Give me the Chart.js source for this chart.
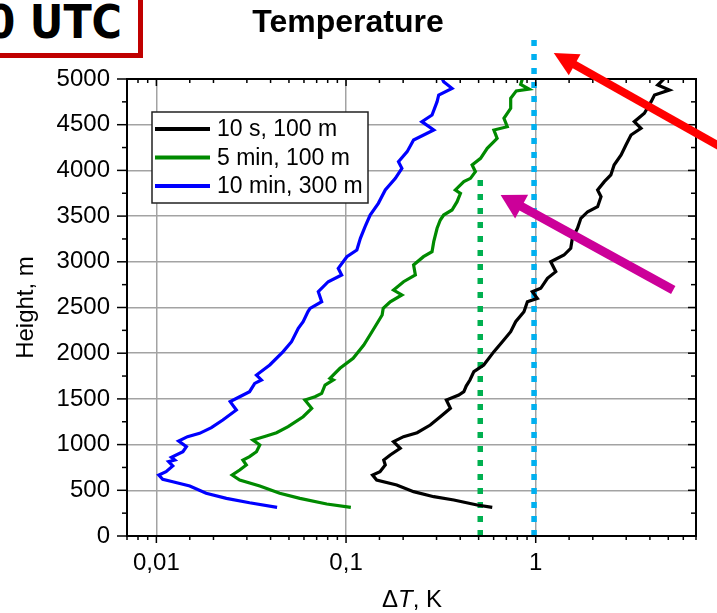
<!DOCTYPE html>
<html>
<head>
<meta charset="utf-8">
<script src="https://cdn.jsdelivr.net/npm/chart.js@4.4.1/dist/chart.umd.min.js"></script>
<style>
  body { margin: 0; background: #fff; }
  #wrap { position: relative; width: 717px; height: 613px; overflow: hidden; }
  #utc {
    position: absolute; right: 574px; top: -10px; box-sizing: border-box; height: 68px;
    border: 5px solid #c00000; background: #fff; white-space: nowrap;
    font: bold 46px "Liberation Sans Narrow", "DejaVu Sans Condensed", sans-serif;
    line-height: 48px; padding: 3px 16px 0 40px; color: #000;
  }
  #xtitle {
    position: absolute; left: 312px; width: 200px; top: 585px; text-align: center;
    font: 24px "Liberation Sans", Arial, sans-serif; line-height: 28px; color: #000;
  }
</style>
</head>
<body>
<div id="wrap">
  <canvas id="chart" width="717" height="613"></canvas>
  <div id="utc">0 UTC</div>
  <div id="xtitle">Δ<i>T</i>, K</div>
</div>
<script>
// profiles: height (m) and ΔT (K)
const blackHeight = [314, 339, 394, 430, 485, 558, 613, 667, 704, 777, 831, 886, 959, 1032, 1087, 1130, 1214, 1305, 1397, 1488, 1543, 1579, 1640, 1707, 1798, 1871, 2017, 2126, 2235, 2345, 2454, 2563, 2600, 2673, 2710, 2819, 2892, 3001, 3074, 3148, 3257, 3367, 3476, 3548, 3603, 3712, 3786, 3877, 3950, 4059, 4168, 4278, 4387, 4461, 4533, 4625, 4752, 4825, 4880, 4934, 4989, 5000];
const blackDT = [0.590, 0.491, 0.370, 0.290, 0.227, 0.185, 0.145, 0.138, 0.151, 0.161, 0.158, 0.171, 0.193, 0.178, 0.201, 0.237, 0.278, 0.314, 0.355, 0.338, 0.393, 0.418, 0.43, 0.45, 0.472, 0.532, 0.602, 0.667, 0.738, 0.784, 0.867, 0.904, 1.02, 0.96, 1.063, 1.153, 1.276, 1.20, 1.41, 1.53, 1.56, 1.66, 1.73, 1.88, 2.12, 2.21, 2.12, 2.30, 2.49, 2.59, 2.82, 2.99, 3.18, 3.59, 3.31, 3.74, 4.06, 4.23, 5.07, 4.40, 4.68, 4.6];

const greenHeight = [314, 350, 412, 467, 547, 613, 667, 722, 777, 831, 868, 922, 996, 1050, 1094, 1130, 1196, 1305, 1397, 1488, 1524, 1561, 1652, 1707, 1725, 1835, 1944, 2090, 2235, 2418, 2491, 2563, 2637, 2691, 2782, 2856, 2965, 3056, 3111, 3220, 3367, 3457, 3512, 3567, 3658, 3749, 3786, 3877, 3913, 3986, 4059, 4132, 4242, 4351, 4442, 4478, 4570, 4679, 4789, 4870, 4890, 4940, 5000];
const greenDT = [0.106, 0.0791, 0.0571, 0.0447, 0.0351, 0.0275, 0.0251, 0.0275, 0.0298, 0.0286, 0.0310, 0.0337, 0.0351, 0.0323, 0.0380, 0.0430, 0.0495, 0.0594, 0.0659, 0.0607, 0.0686, 0.0744, 0.0775, 0.0857, 0.0823, 0.0929, 0.109, 0.124, 0.137, 0.155, 0.157, 0.171, 0.197, 0.178, 0.201, 0.232, 0.227, 0.256, 0.284, 0.290, 0.302, 0.314, 0.327, 0.362, 0.385, 0.401, 0.377, 0.418, 0.453, 0.481, 0.462, 0.512, 0.555, 0.626, 0.602, 0.708, 0.680, 0.738, 0.738, 0.790, 0.922, 0.833, 0.850];

const blueHeight = [314, 364, 412, 467, 547, 594, 620, 667, 704, 766, 813, 831, 861, 922, 977, 1039, 1087, 1123, 1185, 1269, 1379, 1470, 1524, 1579, 1670, 1707, 1761, 1871, 2017, 2126, 2272, 2345, 2455, 2491, 2563, 2673, 2782, 2856, 2929, 3056, 3129, 3257, 3384, 3512, 3640, 3786, 3913, 4023, 4095, 4205, 4333, 4442, 4533, 4606, 4752, 4825, 4898, 4971, 5000];
const blueDT = [0.0433, 0.0310, 0.0234, 0.0183, 0.0150, 0.0122, 0.0108, 0.0103, 0.01125, 0.0122, 0.0116, 0.0125, 0.0120, 0.0138, 0.0144, 0.0131, 0.0146, 0.0169, 0.0195, 0.0224, 0.0264, 0.0245, 0.0275, 0.0310, 0.0330, 0.0358, 0.0337, 0.0396, 0.0466, 0.0516, 0.0560, 0.0594, 0.0630, 0.0646, 0.0744, 0.0714, 0.0805, 0.0948, 0.0910, 0.101, 0.114, 0.119, 0.126, 0.134, 0.148, 0.161, 0.182, 0.197, 0.189, 0.210, 0.227, 0.290, 0.251, 0.284, 0.302, 0.308, 0.362, 0.327, 0.322];

const seriesLabels = ['10 s, 100 m', '5 min, 100 m', '10 min, 300 m'];

// dotted reference lines: ΔT value and [bottom, top] heights
const greenRefDT = 0.51, greenRefHeights = [0, 3915];
const blueRefDT = 0.98, blueRefHeights = [0, 5450];

// annotation arrows in data units: [ΔT, height] tail -> tip
const redArrow = { from: [15.5, 4005], to: [1.245, 5284] };
const magentaArrow = { from: [5.31, 2691], to: [0.653, 3731] };

const xTickValues = [0.01, 0.1, 1];
const xTickLabels = ['0,01', '0,1', '1'];

const gridColor = '#a3a3a3';

function profile(dt, h) { return h.map((v, i) => ({ x: dt[i], y: v })); }
function isDecade(v) { const l = Math.log10(v); return Math.abs(l - Math.round(l)) < 1e-9; }

Chart.defaults.font.family = '"Liberation Sans", Arial, sans-serif';
Chart.defaults.color = '#000';

function arrow(ctx, x1, y1, x2, y2, color, width, headLen, headW) {
  const ang = Math.atan2(y2 - y1, x2 - x1);
  const bx = x2 - headLen * Math.cos(ang), by = y2 - headLen * Math.sin(ang);
  ctx.strokeStyle = color; ctx.fillStyle = color; ctx.lineWidth = width; ctx.lineCap = 'butt';
  ctx.beginPath(); ctx.moveTo(x1, y1); ctx.lineTo(bx + Math.cos(ang), by + Math.sin(ang)); ctx.stroke();
  const nx = -Math.sin(ang) * headW / 2, ny = Math.cos(ang) * headW / 2;
  ctx.beginPath(); ctx.moveTo(x2, y2); ctx.lineTo(bx + nx, by + ny); ctx.lineTo(bx - nx, by - ny); ctx.closePath(); ctx.fill();
}

const extras = {
  id: 'extras',
  afterDatasetsDraw(chart) {
    const { ctx, chartArea: a, scales: { x, y } } = chart;
    ctx.save();
    ctx.strokeStyle = '#000'; ctx.lineWidth = 1.5;
    const seg = (x1, y1, x2, y2) => { ctx.beginPath(); ctx.moveTo(x1, y1); ctx.lineTo(x2, y2); ctx.stroke(); };
    y.ticks.forEach(t => {
      const py = y.getPixelForValue(t.value);
      const major = t.value % 500 === 0;
      seg(a.left - (major ? 10 : 5), py, a.left, py);
      seg(a.right - (major ? 8 : 5), py, a.right, py);
    });
    x.ticks.forEach(t => {
      const px = x.getPixelForValue(t.value);
      const major = isDecade(t.value);
      seg(px, a.bottom, px, a.bottom + (major ? 7 : 4));
      seg(px, a.top, px, a.top + (major ? 7 : 4));
    });
    ctx.lineWidth = 2;
    ctx.strokeRect(a.left, a.top, a.right - a.left, a.bottom - a.top);

    // legend
    const lx = a.left + 25, ly = a.top + 33, lw = 216, lh = 91;
    ctx.fillStyle = '#fff'; ctx.fillRect(lx, ly, lw, lh);
    ctx.strokeStyle = '#222'; ctx.lineWidth = 1.5; ctx.strokeRect(lx, ly, lw, lh);
    ctx.font = '23px "Liberation Sans", Arial, sans-serif';
    ctx.textBaseline = 'middle'; ctx.textAlign = 'left';
    chart.data.datasets.slice(0, 3).forEach((ds, i) => {
      const ry = ly + 17 + i * 28.5;
      ctx.strokeStyle = ds.borderColor; ctx.lineWidth = 4;
      seg(lx + 3, ry, lx + 58, ry);
      ctx.fillStyle = '#000'; ctx.fillText(ds.label, lx + 65, ry + 1);
    });

    // arrows
    const P = p => [x.getPixelForValue(p[0]), y.getPixelForValue(p[1])];
    let f = P(redArrow.from), t = P(redArrow.to);
    arrow(ctx, f[0], f[1], t[0], t[1], '#ff0000', 8, 24, 24);
    f = P(magentaArrow.from); t = P(magentaArrow.to);
    arrow(ctx, f[0], f[1], t[0], t[1], '#cc0099', 9, 24, 27);
    ctx.restore();
  }
};

const lineStyle = { showLine: true, pointRadius: 0, borderWidth: 3.2, tension: 0, fill: false };

new Chart(document.getElementById('chart'), {
  type: 'scatter',
  data: {
    datasets: [
      { ...lineStyle, label: seriesLabels[0], data: profile(blackDT, blackHeight), borderColor: '#000000' },
      { ...lineStyle, label: seriesLabels[1], data: profile(greenDT, greenHeight), borderColor: '#008a00' },
      { ...lineStyle, label: seriesLabels[2], data: profile(blueDT, blueHeight), borderColor: '#0000ff' },
      { ...lineStyle, label: 'ref green', borderWidth: 5.5, borderDash: [6, 8], borderColor: '#00b050',
        data: greenRefHeights.map(h => ({ x: greenRefDT, y: h })) },
      { ...lineStyle, label: 'ref blue', borderWidth: 5.5, borderDash: [6, 8], borderColor: '#00b0f0', clip: false,
        data: blueRefHeights.map(h => ({ x: blueRefDT, y: h })) }
    ]
  },
  options: {
    responsive: false,
    animation: false,
    layout: { padding: { left: 0, right: 21, top: 0, bottom: 0 } },
    plugins: {
      legend: { display: false },
      tooltip: { enabled: false },
      title: {
        display: true, text: 'Temperature', color: '#000',
        font: { size: 32, weight: 'bold' }, padding: { top: 4, bottom: 36.6 }
      }
    },
    scales: {
      x: {
        type: 'logarithmic', min: 0.007, max: 7,
        afterFit: s => { s.height = 77; },
        border: { display: false },
        grid: { color: c => (c.tick && isDecade(c.tick.value)) ? gridColor : 'rgba(0,0,0,0)', lineWidth: 1.5, drawTicks: false },
        ticks: {
          autoSkip: false, maxRotation: 0, padding: 13, font: { size: 24 },
          callback: v => {
            const i = xTickValues.findIndex(t => Math.abs(t - v) / t < 1e-6);
            return i >= 0 ? xTickLabels[i] : '';
          }
        }
      },
      y: {
        min: 0, max: 5000,
        afterFit: s => { s.width = 127; },
        border: { display: false },
        grid: { color: c => (c.tick && c.tick.value % 500 === 0) ? gridColor : 'rgba(0,0,0,0)', lineWidth: 1.5, drawTicks: false },
        ticks: {
          stepSize: 250, autoSkip: false, padding: 17, font: { size: 24 },
          callback: v => v % 500 === 0 ? String(v) : ''
        },
        title: { display: true, text: 'Height, m', font: { size: 24 }, color: '#000', padding: { top: 12, bottom: 0 } }
      }
    }
  },
  plugins: [extras]
});
</script>
</body>
</html>
